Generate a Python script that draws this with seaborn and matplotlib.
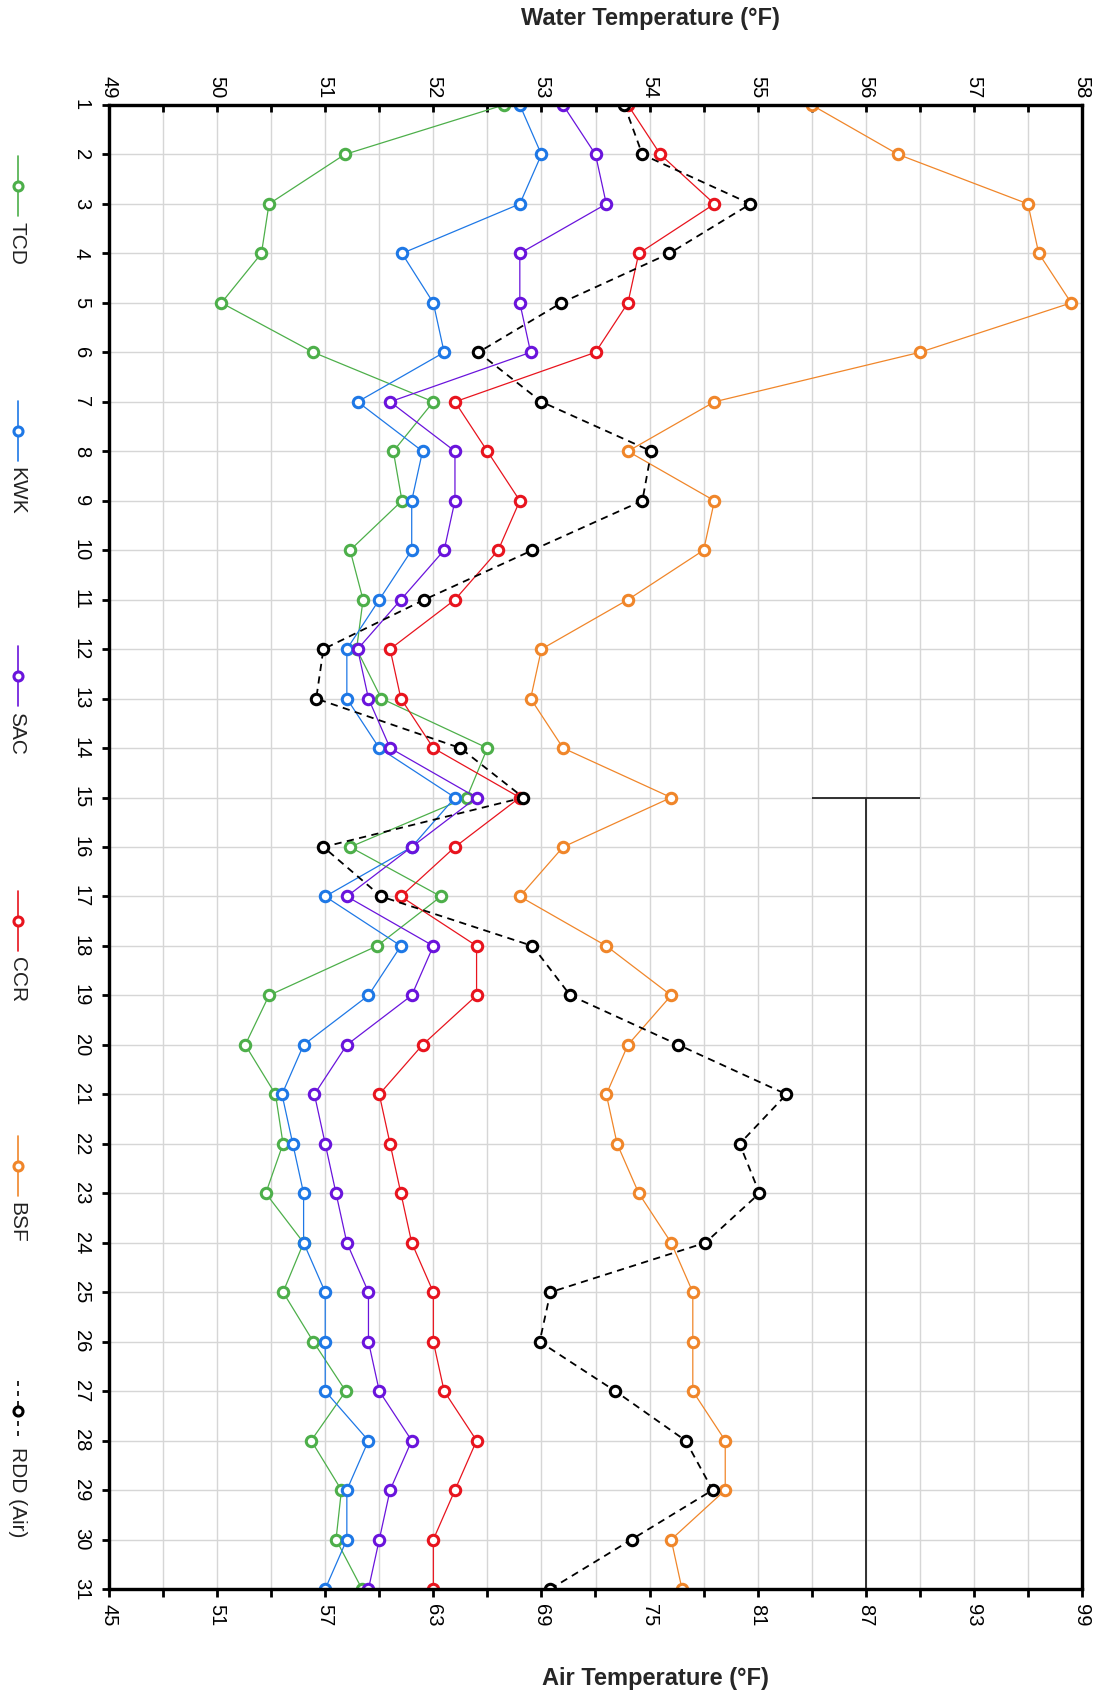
import seaborn as sns
import matplotlib.pyplot as plt
import pandas as pd

days = list(range(1, 32))

tcd = [52.65, 51.18, 50.48, 50.41, 50.04, 50.89, 52.0, 51.63, 51.71, 51.23,
       51.35, 51.29, 51.52, 52.5, 52.31, 51.23, 52.07, 51.48, 50.48, 50.26,
       50.54, 50.61, 50.45, 50.8, 50.61, 50.89, 51.19, 50.87, 51.15, 51.1, 51.34]
kwk = [52.8, 53.0, 52.8, 51.71, 52.0, 52.1, 51.3, 51.9, 51.8, 51.8,
       51.5, 51.2, 51.2, 51.5, 52.2, 51.8, 51.0, 51.7, 51.4, 50.8,
       50.6, 50.7, 50.8, 50.8, 51.0, 51.0, 51.0, 51.4, 51.2, 51.2, 51.0]
sac = [53.2, 53.5, 53.6, 52.8, 52.8, 52.9, 51.6, 52.2, 52.2, 52.1,
       51.7, 51.3, 51.4, 51.6, 52.4, 51.8, 51.2, 52.0, 51.8, 51.2,
       50.9, 51.0, 51.1, 51.2, 51.4, 51.4, 51.5, 51.8, 51.6, 51.5, 51.4]
ccr = [53.8, 54.1, 54.6, 53.9, 53.8, 53.5, 52.2, 52.5, 52.8, 52.6,
       52.2, 51.6, 51.7, 52.0, 52.8, 52.2, 51.7, 52.4, 52.4, 51.9,
       51.5, 51.6, 51.7, 51.8, 52.0, 52.0, 52.1, 52.4, 52.2, 52.0, 52.0]
bsf = [55.5, 56.3, 57.5, 57.6, 57.9, 56.5, 54.6, 53.8, 54.6, 54.5,
       53.8, 53.0, 52.9, 53.2, 54.2, 53.2, 52.8, 53.6, 54.2, 53.8,
       53.6, 53.7, 53.9, 54.2, 54.4, 54.4, 54.4, 54.7, 54.7, 54.2, 54.3]
rdd_air = [73.6, 74.6, 80.6, 76.1, 70.1, 65.5, 69.0, 75.1, 74.6, 68.5,
           62.5, 56.9, 56.5, 64.5, 68.0, 56.9, 60.1, 68.5, 70.6, 76.6,
           82.6, 80.0, 81.1, 78.1, 69.5, 68.9, 73.1, 77.0, 78.5, 74.0, 69.5]

sites = ["TCD", "KWK", "SAC", "CCR", "BSF"]
colors = {"TCD": "#4daf4a", "KWK": "#1e78e6", "SAC": "#6a14dc",
          "CCR": "#e8141e", "BSF": "#f0862a", "RDD (Air)": "black"}

# error bar drawn at air 87, from day 15 down to day 31
bar_air = 87
bar_day = 31
bar_len = 16

water = pd.DataFrame({"Day": days * 5,
                      "Temp": tcd + kwk + sac + ccr + bsf,
                      "Site": [s for s in sites for _ in days]})
air = pd.DataFrame({"Day": days, "Temp": rdd_air})

sns.set_theme(style="white")
plt.rcParams["font.family"] = ["Liberation Sans", "DejaVu Sans"]

W, H = 1111, 1694
fig = plt.figure(figsize=(W / 100, H / 100), dpi=100)
ax = fig.add_axes([109 / W, 1 - 1589 / H, (1082 - 109) / W, (1589 - 105) / H])

for s in sites:
    sns.lineplot(data=water[water.Site == s], x="Temp", y="Day", sort=False,
                 orient="y", estimator=None, color=colors[s], lw=0.9,
                 marker="o", ms=7.5, mfc="white", mec=colors[s], mew=2.2, ax=ax)

ax2 = ax.twiny()
sns.lineplot(data=air, x="Temp", y="Day", sort=False, orient="y",
             estimator=None, color="black", lw=1.3, ls=(0, (4, 3)),
             marker="o", ms=7.5, mfc="white", mec="black", mew=2.2, ax=ax2)
ax2.errorbar([bar_air], [bar_day], yerr=[[bar_len], [0]], color="#222222",
             lw=1.3, capsize=39, capthick=1.3, fmt="none", clip_on=False)

ax.set_ylim(31, 1)
ax.set_xlim(49, 58)
ax2.set_xlim(45, 99)

ax.set_yticks(days)
ax.set_yticklabels([str(d) for d in days], rotation=270, va="center")
ax.set_xticks(range(49, 59))
ax.set_xticks([x + 0.5 for x in range(49, 58)], minor=True)
ax.set_xticklabels([str(x) for x in range(49, 59)], rotation=270, ha="center")
ax2.set_xticks(range(45, 100, 6))
ax2.set_xticks(range(48, 99, 6), minor=True)
ax2.set_xticklabels([str(x) for x in range(45, 100, 6)], rotation=270, ha="center")

ax.xaxis.set_ticks_position("top")
ax2.xaxis.set_ticks_position("bottom")
ax.tick_params(axis="x", which="both", direction="in", length=5, width=2,
               labelsize=14.5, pad=5, colors="black")
ax.tick_params(axis="y", direction="out", length=5, width=2, labelsize=14.5,
               pad=8, left=True, colors="black")
ax2.tick_params(axis="x", which="both", direction="out", length=6, width=2,
                labelsize=14.5, pad=5, colors="black")

ax.grid(True, which="both", axis="x", color="#d6d6d6", lw=1)
ax.grid(True, axis="y", color="#d6d6d6", lw=1)
ax2.grid(False)
ax.set_xlabel("")
ax.set_ylabel("")
ax2.set_xlabel("")
ax2.set_ylabel("")
for a in (ax, ax2):
    for sp in a.spines.values():
        sp.set_color("black")
        sp.set_linewidth(2.3)

fig.text(650 / W, 1 - 19 / H, "Water Temperature (°F)", ha="center",
         va="center", fontsize=17, fontweight="bold")
fig.text(655 / W, 1 - 1678 / H, "Air Temperature (°F)", ha="center",
         va="center", fontsize=17, fontweight="bold")

# legend, drawn vertically down the left edge
lax = fig.add_axes([0, 0, 1, 1], zorder=-1)
lax.set_xlim(0, W)
lax.set_ylim(H, 0)
lax.axis("off")
names = sites + ["RDD (Air)"]
for i, name in enumerate(names):
    yc = 186 + i * 245
    ls = (0, (3, 3)) if name == "RDD (Air)" else "-"
    lax.plot([18, 18], [yc - 30, yc + 30], color=colors[name], lw=1.2, ls=ls)
    lax.plot([18], [yc], marker="o", ms=6.5, mfc="white", mec=colors[name], mew=2.2)
    lax.text(17, yc + 36, name, rotation=270, ha="center", va="top",
             fontsize=15, color="#222222")

fig.savefig("out.png", dpi=100)
